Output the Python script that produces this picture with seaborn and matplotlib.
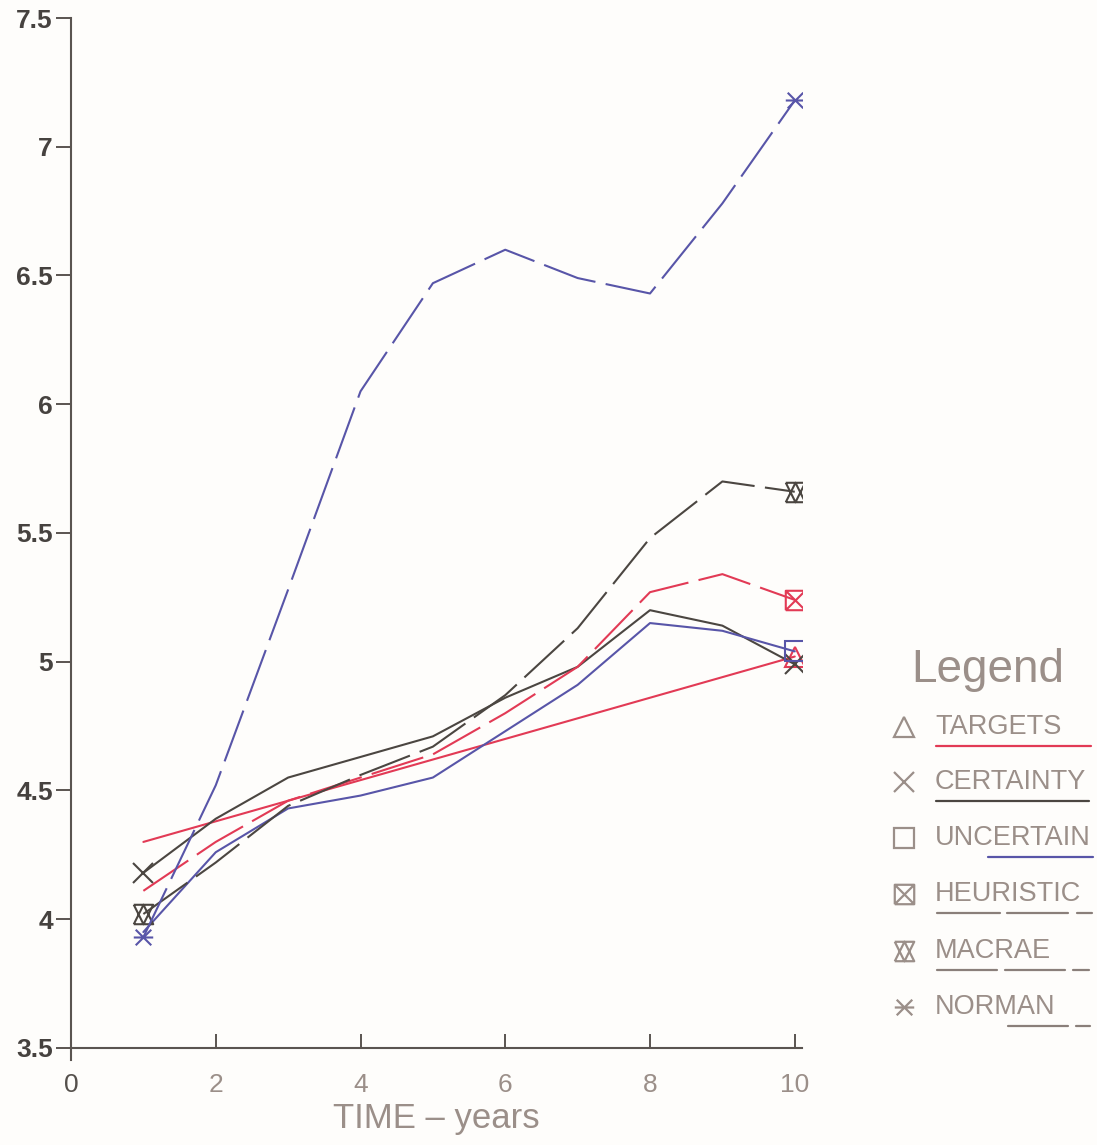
"""Plotter-style line chart: index values over ten years for six planning methods."""

import matplotlib

matplotlib.use("Agg")

import matplotlib.pyplot as plt
import pandas as pd
import seaborn as sns
from matplotlib.lines import Line2D
from matplotlib.path import Path

# --- data ------------------------------------------------------------------
years = [1, 2, 3, 4, 5, 6, 7, 8, 9, 10]
targets_years = [1, 10]
targets = [4.30, 5.02]
certainty = [4.18, 4.39, 4.55, 4.63, 4.71, 4.86, 4.98, 5.20, 5.14, 4.99]
uncertain = [3.95, 4.26, 4.43, 4.48, 4.55, 4.73, 4.91, 5.15, 5.12, 5.04]
heuristic = [4.11, 4.30, 4.46, 4.55, 4.64, 4.80, 4.98, 5.27, 5.34, 5.24]
macrae = [4.02, 4.22, 4.44, 4.56, 4.67, 4.87, 5.13, 5.48, 5.70, 5.66]
norman = [3.93, 4.52, 5.28, 6.05, 6.47, 6.60, 6.49, 6.43, 6.78, 7.18]

series_names = ["TARGETS", "CERTAINTY", "UNCERTAIN", "HEURISTIC", "MACRAE", "NORMAN"]
x_ticks = [0, 2, 4, 6, 8, 10]
y_ticks = [3.5, 4, 4.5, 5, 5.5, 6, 6.5, 7, 7.5]
y_tick_labels = ["3.5", "4", "4.5", "5", "5.5", "6", "6.5", "7", "7.5"]

# --- colours / styles --------------------------------------------------------
RED = "#e23a55"
DARK = "#4b4641"
BLUE = "#5855a8"
TEXT = "#9b8f89"
AXIS = "#5a5450"
BG = "#fefdfb"
DASH = (0, (26, 5))


def line_marker(segments, closed_box=False):
    """Build an unfilled marker path out of straight strokes."""
    verts, codes = [], []
    if closed_box:
        verts += [(-1, -1), (1, -1), (1, 1), (-1, 1), (-1, -1)]
        codes += [Path.MOVETO, Path.LINETO, Path.LINETO, Path.LINETO, Path.LINETO]
    for seg in segments:
        verts += list(seg)
        codes += [Path.MOVETO] + [Path.LINETO] * (len(seg) - 1)
    return Path(verts, codes)


boxed_x = line_marker([[(-1, -1), (1, 1)], [(-1, 1), (1, -1)]], closed_box=True)
hourglass = line_marker(
    [
        [(-1, 1), (1, 1), (0, -1), (-1, 1)],
        [(-1, -1), (1, -1), (0, 1), (-1, -1)],
    ]
)
asterisk = line_marker([[(-1, 0), (1, 0)], [(-0.8, -0.8), (0.8, 0.8)], [(-0.8, 0.8), (0.8, -0.8)]])

styles = {
    "TARGETS": dict(color=RED, ls="-", marker="^", every=[1]),
    "CERTAINTY": dict(color=DARK, ls="-", marker="x", every=[0, 9]),
    "UNCERTAIN": dict(color=BLUE, ls="-", marker="s", every=[9]),
    "HEURISTIC": dict(color=RED, ls=DASH, marker=boxed_x, every=[9]),
    "MACRAE": dict(color=DARK, ls=DASH, marker=hourglass, every=[0, 9]),
    "NORMAN": dict(color=BLUE, ls=DASH, marker=asterisk, every=[0, 9]),
}

frames = [pd.DataFrame({"year": targets_years, "value": targets, "method": "TARGETS"})]
for name, vals in zip(series_names[1:], [certainty, uncertain, heuristic, macrae, norman]):
    frames.append(pd.DataFrame({"year": years, "value": vals, "method": name}))
df = pd.concat(frames, ignore_index=True)

sns.set_style("ticks")
plt.rcParams["font.family"] = ["Liberation Sans", "DejaVu Sans"]

W, H = 1097, 1145
fig = plt.figure(figsize=(W / 100, H / 100), dpi=100, facecolor=BG)
ax = fig.add_axes([71 / W, (H - 1060) / H, (802 - 71) / W, (1060 - 18) / H])
ax.set_facecolor(BG)

for name in series_names:
    st = styles[name]
    sns.lineplot(
        data=df[df["method"] == name],
        x="year",
        y="value",
        ax=ax,
        color=st["color"],
        linestyle=st["ls"],
        linewidth=1.5,
        marker=st["marker"],
        markevery=st["every"],
        markersize=14,
        markerfacecolor="none",
        markeredgecolor=st["color"],
        markeredgewidth=1.5,
        legend=False,
    )

ax.set_xlim(0, 10.1)
ax.set_ylim(3.453, 7.5)
sns.despine(ax=ax)
ax.spines["bottom"].set_position(("data", 3.5))
for sp in ("left", "bottom"):
    ax.spines[sp].set_color(AXIS)
    ax.spines[sp].set_linewidth(1.5)

ax.set_yticks(y_ticks)
ax.set_yticklabels(y_tick_labels, fontsize=19, fontweight="bold", color="#46423f")
ax.tick_params(axis="y", direction="out", length=11, width=1.4, color=AXIS, pad=2)

ax.set_xticks(x_ticks)
ax.set_xticklabels([str(t) for t in x_ticks], fontsize=19, color=TEXT)
ax.get_xticklabels()[0].set_color("#55504c")
ax.tick_params(axis="x", direction="in", length=10, width=1.4, color=AXIS, pad=18)

ax.set_xlabel("TIME – years", fontsize=25, color=TEXT, labelpad=4)
ax.set_ylabel("")


# --- hand-drawn style legend to the right -----------------------------------
def fx(px):
    return px / W


def fy(py):
    return 1 - py / H


fig.text(fx(988), fy(670), "Legend", fontsize=33, color=TEXT, ha="center", va="center")

rows_y = [727, 782, 838, 894, 951, 1007]
legend_markers = ["^", "x", "s", boxed_x, hourglass, asterisk]
underlines = [
    (RED, [(936, 1091)]),
    (DARK, [(936, 1089)]),
    (BLUE, [(988, 1093)]),
    ("#8a7f7a", [(937, 1000), (1007, 1068), (1077, 1092)]),
    ("#8a7f7a", [(937, 997), (1005, 1065), (1073, 1089)]),
    ("#8a7f7a", [(1008, 1068), (1076, 1090)]),
]

for name, row_y, mk, (ucol, segs) in zip(series_names, rows_y, legend_markers, underlines):
    fig.add_artist(
        Line2D(
            [fx(904)], [fy(row_y)], transform=fig.transFigure, marker=mk, markersize=14,
            markerfacecolor="none", markeredgecolor=TEXT, markeredgewidth=1.6, linestyle="none",
        )
    )
    fig.text(fx(935), fy(row_y), name, fontsize=19.5, color=TEXT, ha="left", va="center")
    for x0, x1 in segs:
        fig.add_artist(
            Line2D([fx(x0), fx(x1)], [fy(row_y + 19)] * 2, transform=fig.transFigure,
                   color=ucol, linewidth=1.6)
        )

fig.savefig("out.png", dpi=100, facecolor=BG)
